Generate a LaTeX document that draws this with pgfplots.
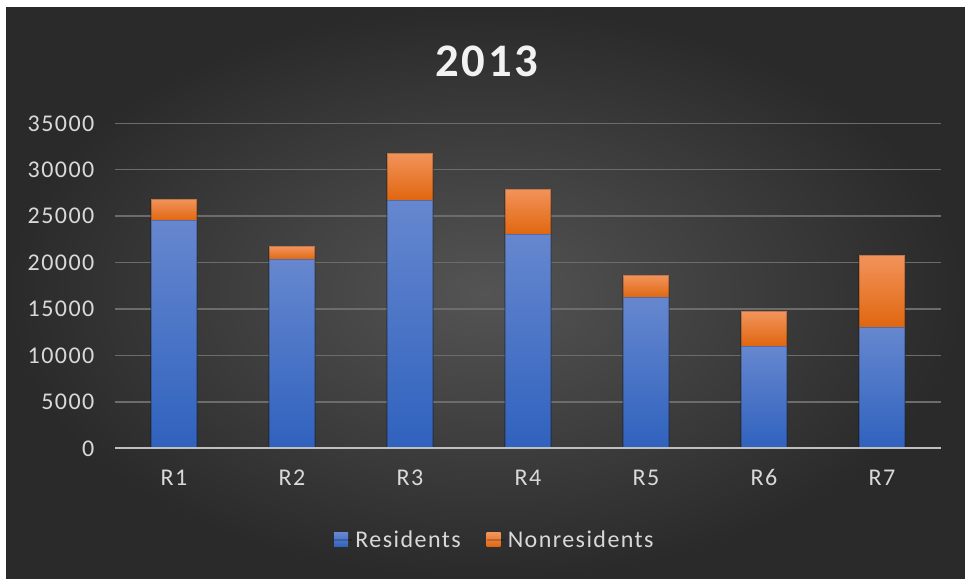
\documentclass[border=0pt]{standalone}
\usepackage{pgfplots}
\pgfplotsset{compat=1.18}
\usepackage{fontspec}
\setmainfont{Carlito}
\newfontfamily\wide{Carlito}[LetterSpace=6]
\definecolor{bgin}{HTML}{545454}
\definecolor{bgout}{HTML}{2A2A2A}
\definecolor{gridc}{HTML}{6C6C6C}
\definecolor{axisc}{HTML}{BFBFBF}
\definecolor{txt}{HTML}{D9D9D9}
\definecolor{blueT}{HTML}{6687CF}
\definecolor{blueB}{HTML}{2F62BE}
\definecolor{orT}{HTML}{F2935A}
\definecolor{orB}{HTML}{E0660F}

\pgfplotsset{
  plotbox/.style={
    at={(86.25pt,98.0pt)}, anchor=south west,
    scale only axis, width=619.5pt, height=243.75pt,
    xmin=-0.5, xmax=6.5, ymin=0, ymax=35000,
  },
  resid/.style={draw=black, draw opacity=0.2, line width=0.8pt, top color=blueT, bottom color=blueB},
  nonres/.style={draw=black, draw opacity=0.2, line width=0.8pt, top color=orT, bottom color=orB},
}
% one overlaid axis for each category, so that each bar gets its own gradient
\newcommand{\stackbar}[3]{%
  \begin{axis}[plotbox, hide axis, ybar stacked, bar width=34.5pt]
  \addplot[resid] coordinates {(#1,#2)};
  \addplot[nonres] coordinates {(#1,#3)};
  \end{axis}}

\begin{document}
\begin{tikzpicture}
\fill[white] (0pt,0pt) rectangle (723.75pt,434.25pt);
\shade[inner color=bgin, outer color=bgout] (4.5pt,0pt) rectangle (723.75pt,428.25pt);
\node[font=\wide\bfseries\fontsize{35}{40}\selectfont, text=white!95!black] at (365.25pt,388.5pt) {2013};
\begin{axis}[
  plotbox,
  xtick={0,...,6}, xticklabels={R1,R2,R3,R4,R5,R6,R7},
  ytick={0,5000,...,35000},
  major tick length=0pt,
  /pgf/number format/assume math mode=true,
  /pgf/number format/set thousands separator={},
  scaled y ticks=false,
  tick label style={font=\wide\fontsize{18}{21}\selectfont, text=txt},
  y tick label style={xshift=-12pt},
  x tick label style={yshift=-12pt, text height=12pt, text depth=0pt},
  axis line style={draw=none},
  ymajorgrids, grid style={gridc, line width=1.1pt},
  legend style={at={(axis description cs:0.46,-0.282)}, anchor=center,
    legend columns=2, draw=none, fill=none, text=txt,
    font=\wide\fontsize{18}{21}\selectfont,
    /tikz/every even column/.append style={column sep=17pt}},
  legend image code/.code={\fill[#1, draw=none] (0pt,-5.25pt) rectangle (10.5pt,5.25pt);
    \path (0pt,0pt) -- (13.5pt,0pt);},
]
\addlegendimage{resid}
\addlegendentry{Residents}
\addlegendimage{nonres}
\addlegendentry{Nonresidents}
\end{axis}
\stackbar{0}{24500}{2300}
\stackbar{1}{20300}{1400}
\stackbar{2}{26700}{5100}
\stackbar{3}{23000}{4900}
\stackbar{4}{16200}{2400}
\stackbar{5}{11000}{3700}
\stackbar{6}{13000}{7800}
\begin{axis}[plotbox, hide axis]
\draw[axisc, line width=1.6pt] (axis cs:-0.5,0) -- (axis cs:6.5,0);
\end{axis}
\end{tikzpicture}
\end{document}
